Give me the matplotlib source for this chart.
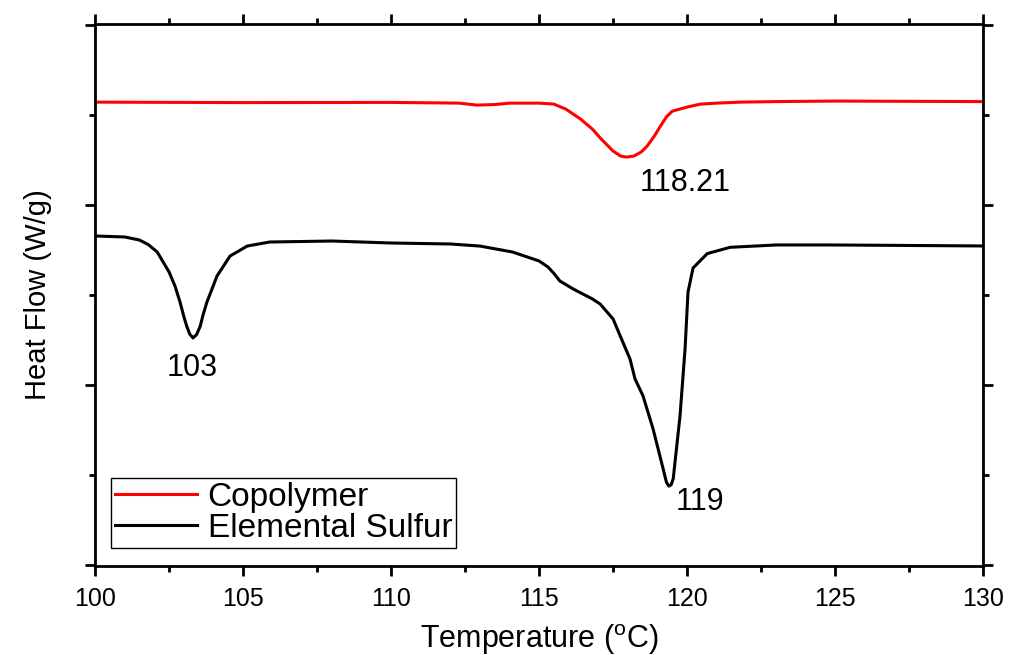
import matplotlib
matplotlib.use('Agg')
import matplotlib.pyplot as plt
from matplotlib.ticker import MultipleLocator, NullFormatter

plt.rcParams['font.family'] = ['Liberation Sans', 'DejaVu Sans']

# Copolymer DSC trace (temperature in C, heat flow in W/g, arbitrary offset)
temp_copo = [100, 105, 110, 112.3, 112.9, 113.5, 114.0, 115.0, 115.5, 115.9,
             116.4, 116.8, 117.1, 117.5, 117.75, 117.95, 118.2, 118.45, 118.65,
             118.9, 119.1, 119.3, 119.5, 120.0, 120.45, 121.0, 121.8, 123, 125, 130]
flow_copo = [5.144, 5.139, 5.141, 5.133, 5.111, 5.117, 5.133, 5.133, 5.122, 5.067,
             4.956, 4.844, 4.733, 4.60, 4.545, 4.533, 4.544, 4.59, 4.656,
             4.77, 4.878, 4.98, 5.044, 5.089, 5.122, 5.133, 5.144, 5.15, 5.156, 5.15]

# Elemental sulfur DSC trace
temp_sulf = [100, 101.0, 101.5, 101.8, 102.1, 102.5, 102.7, 102.87, 103.0, 103.1,
             103.2, 103.31, 103.43, 103.55, 103.65, 103.78, 104.12, 104.56, 105.14,
             105.9, 108, 110, 112, 113, 114.1, 115.0, 115.3, 115.5, 115.7, 116.15,
             116.8, 117.06, 117.5, 117.74, 118.07, 118.24, 118.51, 118.85, 119.19,
             119.3, 119.38, 119.46, 119.53, 119.76, 119.93, 120.03, 120.2, 120.68,
             121.45, 123, 125, 130]
flow_sulf = [3.656, 3.645, 3.611, 3.56, 3.478, 3.256, 3.10, 2.922, 2.76, 2.65,
             2.565, 2.522, 2.56, 2.65, 2.78, 2.922, 3.211, 3.433, 3.544,
             3.589, 3.60, 3.578, 3.567, 3.544, 3.478, 3.378, 3.311, 3.24, 3.156, 3.067,
             2.956, 2.90, 2.733, 2.544, 2.289, 2.067, 1.878, 1.511, 1.067,
             0.92, 0.875, 0.89, 0.956, 1.656, 2.40, 3.033, 3.30, 3.46,
             3.53, 3.556, 3.556, 3.545]

peak_labels = ['103', '118.21', '119']
peak_label_x = [103.28, 119.93, 120.44]
peak_label_y = [2.19, 4.244, 0.70]

fig = plt.figure(figsize=(10.22, 6.55), dpi=100)
ax = fig.add_axes([0.093, 0.136, 0.869, 0.827])

ax.plot(temp_copo, flow_copo, color='#ff0000', lw=2.2, label='Copolymer')
ax.plot(temp_sulf, flow_sulf, color='black', lw=2.2, label='Elemental Sulfur')

for txt, tx, ty in zip(peak_labels, peak_label_x, peak_label_y):
    ax.text(tx, ty, txt, fontsize=22, ha='center', va='center')

ax.set_xlim(100, 130)
ax.set_ylim(-0.012, 6.01)

ax.xaxis.set_major_locator(MultipleLocator(5))
ax.xaxis.set_minor_locator(MultipleLocator(2.5))
ax.yaxis.set_major_locator(MultipleLocator(2))
ax.yaxis.set_minor_locator(MultipleLocator(1))
ax.yaxis.set_major_formatter(NullFormatter())

ax.tick_params(which='both', direction='out', top=True, right=True, width=2)
ax.tick_params(which='major', length=7, labelsize=18, pad=8)
ax.tick_params(which='minor', length=4)
for sp in ax.spines.values():
    sp.set_linewidth(2)

ax.set_xlabel(r'Temperature ($^\mathregular{o}$C)', fontsize=22, labelpad=8)
ax.set_ylabel('Heat Flow (W/g)', fontsize=21, labelpad=16)

leg = ax.legend(loc='lower left', bbox_to_anchor=(0.018, 0.033), borderaxespad=0,
                fontsize=24, handlelength=2.45, handletextpad=0.33, labelspacing=0.0,
                borderpad=0.12, fancybox=False, framealpha=1)
leg.get_frame().set_edgecolor('black')
leg.get_frame().set_linewidth(1)

fig.savefig('out.png', dpi=100)
